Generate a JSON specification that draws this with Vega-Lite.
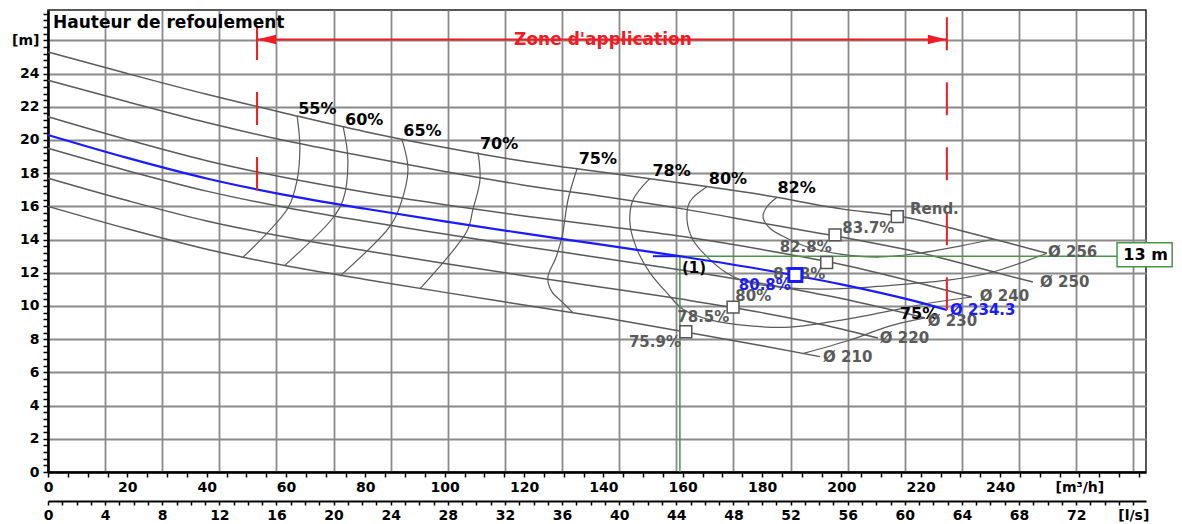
{
"$schema": "https://vega.github.io/schema/vega-lite/v6.json",
"width": 1098, "height": 462,
"autosize": {"type": "none"},
"padding": {"left": 48, "top": 10, "right": 36, "bottom": 52},
"background": "white",
"config": {"font": "DejaVu Sans", "view": {"stroke": "#222", "strokeWidth": 1.5}},
"datasets": {
"curves": [
{"d":"256","q":0,"h":25.3},{"d":"256","q":20,"h":24.0},{"d":"256","q":40,"h":22.75},{"d":"256","q":60,"h":21.6},{"d":"256","q":80,"h":20.5},{"d":"256","q":100,"h":19.55},{"d":"256","q":120,"h":18.72},{"d":"256","q":140,"h":18.05},{"d":"256","q":160,"h":17.4},{"d":"256","q":180,"h":16.7},{"d":"256","q":200,"h":15.85},{"d":"256","q":215.5,"h":15.38},{"d":"256","q":220,"h":15.15},{"d":"256","q":230,"h":14.55},{"d":"256","q":240,"h":13.93},{"d":"256","q":251.8,"h":13.18},
{"d":"250","q":0,"h":23.6},{"d":"250","q":20,"h":22.3},{"d":"250","q":40,"h":21.05},{"d":"250","q":60,"h":19.95},{"d":"250","q":80,"h":19.0},{"d":"250","q":100,"h":18.1},{"d":"250","q":120,"h":17.28},{"d":"250","q":140,"h":16.6},{"d":"250","q":160,"h":15.85},{"d":"250","q":180,"h":15.0},{"d":"250","q":200,"h":14.15},{"d":"250","q":220,"h":13.2},{"d":"250","q":240,"h":11.95},{"d":"250","q":248.3,"h":11.45},
{"d":"240","q":0,"h":21.4},{"d":"240","q":20,"h":20.02},{"d":"240","q":40,"h":18.75},{"d":"240","q":60,"h":17.72},{"d":"240","q":80,"h":16.85},{"d":"240","q":100,"h":16.1},{"d":"240","q":120,"h":15.42},{"d":"240","q":140,"h":14.82},{"d":"240","q":160,"h":14.18},{"d":"240","q":180,"h":13.4},{"d":"240","q":200,"h":12.5},{"d":"240","q":220,"h":11.35},{"d":"240","q":232.9,"h":10.54},
{"d":"234.3","q":0,"h":20.3},{"d":"234.3","q":20,"h":18.92},{"d":"234.3","q":40,"h":17.68},{"d":"234.3","q":60,"h":16.68},{"d":"234.3","q":80,"h":15.86},{"d":"234.3","q":100,"h":15.1},{"d":"234.3","q":120,"h":14.37},{"d":"234.3","q":140,"h":13.68},{"d":"234.3","q":160,"h":12.97},{"d":"234.3","q":180,"h":12.2},{"d":"234.3","q":200,"h":11.3},{"d":"234.3","q":220,"h":10.2},{"d":"234.3","q":226.6,"h":9.76},
{"d":"230","q":0,"h":19.5},{"d":"230","q":20,"h":18.15},{"d":"230","q":40,"h":16.92},{"d":"230","q":60,"h":15.93},{"d":"230","q":80,"h":15.1},{"d":"230","q":100,"h":14.33},{"d":"230","q":120,"h":13.58},{"d":"230","q":140,"h":12.88},{"d":"230","q":160,"h":12.15},{"d":"230","q":180,"h":11.35},{"d":"230","q":200,"h":10.45},{"d":"230","q":221.1,"h":9.28},
{"d":"220","q":0,"h":17.7},{"d":"220","q":20,"h":16.35},{"d":"220","q":40,"h":15.12},{"d":"220","q":60,"h":14.15},{"d":"220","q":80,"h":13.33},{"d":"220","q":100,"h":12.56},{"d":"220","q":120,"h":11.82},{"d":"220","q":140,"h":11.12},{"d":"220","q":160,"h":10.4},{"d":"220","q":180,"h":9.6},{"d":"220","q":200,"h":8.62},{"d":"220","q":209.2,"h":8.07},
{"d":"210","q":0,"h":16.0},{"d":"210","q":20,"h":14.65},{"d":"210","q":40,"h":13.42},{"d":"210","q":60,"h":12.42},{"d":"210","q":80,"h":11.6},{"d":"210","q":100,"h":10.82},{"d":"210","q":120,"h":10.06},{"d":"210","q":140,"h":9.3},{"d":"210","q":160,"h":8.47},{"d":"210","q":180,"h":7.6},{"d":"210","q":194.6,"h":6.95}
],
"iso": [
{"c":"55","i":0,"q":62.8,"h":21.45},{"c":"55","i":1,"q":63.5,"h":19.6},{"c":"55","i":2,"q":62.8,"h":17.6},{"c":"55","i":3,"q":60.5,"h":15.9},{"c":"55","i":4,"q":49.2,"h":12.95},
{"c":"60","i":0,"q":74.4,"h":20.8},{"c":"60","i":1,"q":75.6,"h":18.8},{"c":"60","i":2,"q":74.4,"h":16.4},{"c":"60","i":3,"q":71.8,"h":15.3},{"c":"60","i":4,"q":59.7,"h":12.45},
{"c":"65","i":0,"q":89.2,"h":20.05},{"c":"65","i":1,"q":90.75,"h":18.2},{"c":"65","i":2,"q":88.7,"h":16.0},{"c":"65","i":3,"q":86.2,"h":14.8},{"c":"65","i":4,"q":73.6,"h":11.8},
{"c":"70","i":0,"q":108.4,"h":19.25},{"c":"70","i":1,"q":108.9,"h":17.6},{"c":"70","i":2,"q":107.1,"h":15.8},{"c":"70","i":3,"q":105.6,"h":14.5},{"c":"70","i":4,"q":93.8,"h":11.05},
{"c":"75L","i":0,"q":133.35,"h":18.25},{"c":"75L","i":1,"q":131.1,"h":16.4},{"c":"75L","i":2,"q":129.6,"h":14.2},{"c":"75L","i":3,"q":128.1,"h":12.95},{"c":"75L","i":4,"q":126.0,"h":11.7},{"c":"75L","i":5,"q":127.05,"h":10.85},{"c":"75L","i":6,"q":129.6,"h":10.25},{"c":"75L","i":7,"q":132.3,"h":9.6},
{"c":"75R","i":0,"q":190.5,"h":7.15},{"c":"75R","i":1,"q":202.2,"h":7.95},{"c":"75R","i":2,"q":212.3,"h":8.8},{"c":"75R","i":3,"q":221.1,"h":9.28},
{"c":"78","i":0,"q":151.75,"h":17.69},{"c":"78","i":1,"q":147.5,"h":16.4},{"c":"78","i":2,"q":146.7,"h":15.0},{"c":"78","i":3,"q":148.5,"h":13.4},{"c":"78","i":4,"q":151.75,"h":12.0},{"c":"78","i":5,"q":156.0,"h":10.8},{"c":"78","i":6,"q":160.1,"h":9.8},{"c":"78","i":7,"q":166.9,"h":9.16},{"c":"78","i":8,"q":177.0,"h":8.8},{"c":"78","i":9,"q":187.0,"h":8.73},{"c":"78","i":10,"q":197.1,"h":9.04},{"c":"78","i":11,"q":209.7,"h":9.58},{"c":"78","i":12,"q":222.3,"h":10.18},{"c":"78","i":13,"q":232.9,"h":10.54},
{"c":"80","i":0,"q":166.1,"h":17.19},{"c":"80","i":1,"q":161.8,"h":16.28},{"c":"80","i":2,"q":161.1,"h":15.18},{"c":"80","i":3,"q":162.6,"h":13.98},{"c":"80","i":4,"q":166.1,"h":12.97},{"c":"80","i":5,"q":171.2,"h":11.97},{"c":"80","i":6,"q":177.0,"h":11.39},{"c":"80","i":7,"q":184.3,"h":11.14},{"c":"80","i":8,"q":194.6,"h":11.02},{"c":"80","i":9,"q":207.2,"h":11.14},{"c":"80","i":10,"q":219.8,"h":11.39},{"c":"80","i":11,"q":227.4,"h":11.57},{"c":"80","i":12,"q":238.2,"h":12.05},{"c":"80","i":13,"q":251.8,"h":13.18},
{"c":"82","i":0,"q":183.8,"h":16.55},{"c":"82","i":1,"q":181.25,"h":15.98},{"c":"82","i":2,"q":180.25,"h":15.38},{"c":"82","i":3,"q":182.0,"h":14.68},{"c":"82","i":4,"q":186.3,"h":14.08},{"c":"82","i":5,"q":191.3,"h":13.57},{"c":"82","i":6,"q":199.65,"h":13.13},{"c":"82","i":7,"q":209.7,"h":12.95},{"c":"82","i":8,"q":219.8,"h":13.19},{"c":"82","i":9,"q":229.9,"h":13.61},{"c":"82","i":10,"q":238.2,"h":14.02}
],
"hr": [
{"k":"g","q":159.3,"q2":276.8,"h":13.0},
{"k":"b","q":152.5,"q2":159.3,"h":13.0},
{"k":"r","q":52.7,"q2":226.6,"h":26.05}
],
"vr": [
{"k":"g","q":159.3,"h":0,"h2":13.0},
{"k":"r","q":52.7,"h":26.8,"h2":16.95},
{"k":"r","q":226.6,"h":27.4,"h2":9.76}
],
"arrows": [
{"dir":"l","q":55.08,"h":26.05},
{"dir":"r","q":224.2,"h":26.05}
],
"pts": [
{"k":"g","q":160.8,"h":8.45},
{"k":"g","q":172.7,"h":9.93},
{"k":"g","q":196.3,"h":12.62},
{"k":"g","q":198.4,"h":14.28},
{"k":"g","q":214.1,"h":15.38},
{"k":"b","q":188.4,"h":11.87}
],
"box": [{"q":269.5,"q2":283.4,"h":12.37,"h2":13.81}],
"txt": [
{"g":"iso","q":67.9,"h":21.87,"t":"55%"},
{"g":"iso","q":79.7,"h":21.23,"t":"60%"},
{"g":"iso","q":94.4,"h":20.54,"t":"65%"},
{"g":"iso","q":113.7,"h":19.75,"t":"70%"},
{"g":"iso","q":138.6,"h":18.86,"t":"75%"},
{"g":"iso","q":157.2,"h":18.14,"t":"78%"},
{"g":"iso","q":171.4,"h":17.65,"t":"80%"},
{"g":"iso","q":188.7,"h":17.08,"t":"82%"},
{"g":"iso","q":219.6,"h":9.5,"t":"75%"},
{"g":"bep","q":153.0,"h":7.85,"t":"75.9%"},
{"g":"bep","q":165.2,"h":9.36,"t":"78.5%"},
{"g":"bep","q":177.8,"h":10.6,"t":"80%"},
{"g":"bep","q":189.4,"h":11.93,"t":"81.8%"},
{"g":"bep","q":191.0,"h":13.57,"t":"82.8%"},
{"g":"bep","q":206.8,"h":14.68,"t":"83.7%"},
{"g":"bepb","q":180.7,"h":11.25,"t":"80.8%"},
{"g":"dia","q":252.1,"h":13.25,"t":"Ø 256"},
{"g":"dia","q":250.1,"h":11.46,"t":"Ø 250"},
{"g":"dia","q":234.9,"h":10.58,"t":"Ø 240"},
{"g":"dia","q":221.8,"h":9.12,"t":"Ø 230"},
{"g":"dia","q":209.7,"h":8.1,"t":"Ø 220"},
{"g":"dia","q":195.4,"h":6.9,"t":"Ø 210"},
{"g":"dia","q":217.3,"h":15.84,"t":"Rend."},
{"g":"diab","q":227.4,"h":9.74,"t":"Ø 234.3"},
{"g":"one","q":159.8,"h":12.27,"t":"(1)"},
{"g":"title","q":1.26,"h":27.05,"t":"Hauteur de refoulement"},
{"g":"zone","q":139.9,"h":26.05,"t":"Zone d'application"},
{"g":"box","q":276.7,"h":13.07,"t":"13 m"}
]
},
"layer": [
{
"encoding": {
"x": {"field": "q", "type": "quantitative", "scale": {"domain": [0, 276.8], "nice": false, "zero": false},
 "axis": {"title": null,
  "values": [0,5,10,14.4,15,20,25,28.8,30,35,40,43.2,45,50,55,57.6,60,65,70,72,75,80,85,86.4,90,95,100,100.8,105,110,115,115.2,120,125,129.6,130,135,140,144,145,150,155,158.4,160,165,170,172.8,175,180,185,187.2,190,195,200,201.6,205,210,215,216,220,225,230,230.4,235,240,244.8,245,250,255,259.2,260,265,270,273.6,275],
  "grid": true, "gridColor": "#8a8a8a", "gridWidth": 1.8,
  "gridOpacity": {"condition": {"test": "abs(datum.value/14.4 - round(datum.value/14.4)) < 0.001", "value": 1}, "value": 0},
  "domainColor": "#000", "domainWidth": 2.5,
  "tickColor": "#000", "tickWidth": 1.5, "tickSize": 5,
  "tickOpacity": {"condition": {"test": "abs(datum.value/5 - round(datum.value/5)) < 0.001", "value": 1}, "value": 0},
  "labelExpr": "abs(datum.value/20 - round(datum.value/20)) < 0.001 ? (round(datum.value) == 260 ? '[m³/h]' : format(datum.value, 'd')) : ''",
  "labelFont": "DejaVu Sans", "labelFontSize": 14, "labelFontWeight": "bold", "labelColor": "#000",
  "labelPadding": 3, "labelOverlap": false, "labelFlush": false, "labelBound": false}},
"y": {"field": "h", "type": "quantitative", "scale": {"domain": [0, 27.83], "nice": false, "zero": false},
 "axis": {"title": null,
  "values": [0,0.4,0.8,1.2,1.6,2,2.4,2.8,3.2,3.6,4,4.4,4.8,5.2,5.6,6,6.4,6.8,7.2,7.6,8,8.4,8.8,9.2,9.6,10,10.4,10.8,11.2,11.6,12,12.4,12.8,13.2,13.6,14,14.4,14.8,15.2,15.6,16,16.4,16.8,17.2,17.6,18,18.4,18.8,19.2,19.6,20,20.4,20.8,21.2,21.6,22,22.4,22.8,23.2,23.6,24,24.4,24.8,25.2,25.6,26,26.4,26.8,27.2,27.6],
  "grid": true, "gridColor": "#8a8a8a", "gridWidth": 1.8,
  "gridOpacity": {"condition": {"test": "abs(datum.value/2 - round(datum.value/2)) < 0.01", "value": 1}, "value": 0},
  "domainColor": "#000", "domainWidth": 2.5,
  "tickColor": "#000", "tickWidth": 1.5, "tickSize": 5,
  "labelExpr": "abs(datum.value/2 - round(datum.value/2)) < 0.01 ? (round(datum.value) == 26 ? '[m]' : format(datum.value, 'd')) : ''",
  "labelFont": "DejaVu Sans", "labelFontSize": 14, "labelFontWeight": "bold", "labelColor": "#000",
  "labelPadding": 4, "labelOverlap": false, "labelFlush": false, "labelBound": false}}
},
"layer": [
{"data": {"name": "curves"}, "transform": [{"filter": "datum.d != '234.3'"}], "mark": {"type": "line", "color": "#5a5a5a", "strokeWidth": 1.5, "interpolate": "monotone"}, "encoding": {"detail": {"field": "d"}}},
{"data": {"name": "iso"}, "mark": {"type": "line", "color": "#5a5a5a", "strokeWidth": 1.2, "interpolate": "catmull-rom"}, "encoding": {"detail": {"field": "c"}, "order": {"field": "i", "type": "quantitative"}}},
{"data": {"name": "vr"}, "transform": [{"filter": "datum.k == 'g'"}], "mark": {"type": "rule", "color": "#4a944a", "strokeWidth": 1.5}, "encoding": {"y2": {"field": "h2"}}},
{"data": {"name": "hr"}, "transform": [{"filter": "datum.k == 'g'"}], "mark": {"type": "rule", "color": "#4a944a", "strokeWidth": 1.5}, "encoding": {"x2": {"field": "q2"}}},
{"data": {"name": "curves"}, "transform": [{"filter": "datum.d == '234.3'"}], "mark": {"type": "line", "color": "#1a1aff", "strokeWidth": 2.2, "interpolate": "monotone"}},
{"data": {"name": "hr"}, "transform": [{"filter": "datum.k == 'b'"}], "mark": {"type": "rule", "color": "#1a1aff", "strokeWidth": 2}, "encoding": {"x2": {"field": "q2"}}},
{"data": {"name": "vr"}, "transform": [{"filter": "datum.k == 'r'"}], "mark": {"type": "rule", "color": "#ee1c24", "strokeWidth": 2, "strokeDash": [33, 32]}, "encoding": {"y2": {"field": "h2"}}},
{"data": {"name": "hr"}, "transform": [{"filter": "datum.k == 'r'"}], "mark": {"type": "rule", "color": "#ee1c24", "strokeWidth": 2}, "encoding": {"x2": {"field": "q2"}}},
{"data": {"name": "arrows"}, "transform": [{"filter": "datum.dir == 'l'"}], "mark": {"type": "point", "shape": "M-1,0L1,-0.5L1,0.5Z", "filled": true, "color": "#ee1c24", "size": 361, "opacity": 1}},
{"data": {"name": "arrows"}, "transform": [{"filter": "datum.dir == 'r'"}], "mark": {"type": "point", "shape": "M1,0L-1,-0.5L-1,0.5Z", "filled": true, "color": "#ee1c24", "size": 361, "opacity": 1}},
{"data": {"name": "pts"}, "transform": [{"filter": "datum.k == 'g'"}], "mark": {"type": "square", "size": 140, "fill": "#ffffff", "stroke": "#555555", "strokeWidth": 1.5, "fillOpacity": 1, "strokeOpacity": 1}},
{"data": {"name": "txt"}, "transform": [{"filter": "datum.g == 'bep'"}], "mark": {"type": "text", "align": "center", "baseline": "middle", "font": "DejaVu Sans", "fontWeight": "bold", "fontSize": 15, "color": "#5a5a5a"}, "encoding": {"text": {"field": "t"}}},
{"data": {"name": "txt"}, "transform": [{"filter": "datum.g == 'iso'"}], "mark": {"type": "text", "align": "center", "baseline": "middle", "font": "DejaVu Sans", "fontWeight": "bold", "fontSize": 16, "color": "#000"}, "encoding": {"text": {"field": "t"}}},
{"data": {"name": "txt"}, "transform": [{"filter": "datum.g == 'dia'"}], "mark": {"type": "text", "align": "left", "baseline": "middle", "font": "DejaVu Sans", "fontWeight": "bold", "fontSize": 15, "color": "#5a5a5a"}, "encoding": {"text": {"field": "t"}}},
{"data": {"name": "txt"}, "transform": [{"filter": "datum.g == 'one'"}], "mark": {"type": "text", "align": "left", "baseline": "middle", "font": "DejaVu Sans", "fontWeight": "bold", "fontSize": 15, "color": "#000"}, "encoding": {"text": {"field": "t"}}},
{"data": {"name": "pts"}, "transform": [{"filter": "datum.k == 'b'"}], "mark": {"type": "square", "size": 170, "fill": "#ffffff", "stroke": "#1a1aff", "strokeWidth": 3, "fillOpacity": 1, "strokeOpacity": 1}},
{"data": {"name": "txt"}, "transform": [{"filter": "datum.g == 'bepb'"}], "mark": {"type": "text", "align": "center", "baseline": "middle", "font": "DejaVu Sans", "fontWeight": "bold", "fontSize": 15, "color": "#1a1aff"}, "encoding": {"text": {"field": "t"}}},
{"data": {"name": "txt"}, "transform": [{"filter": "datum.g == 'diab'"}], "mark": {"type": "text", "align": "left", "baseline": "middle", "font": "DejaVu Sans", "fontWeight": "bold", "fontSize": 15, "color": "#1a1aff"}, "encoding": {"text": {"field": "t"}}},
{"data": {"name": "box"}, "mark": {"type": "rect", "fill": "#ffffff", "stroke": "#4a944a", "strokeWidth": 1.5}, "encoding": {"x2": {"field": "q2"}, "y2": {"field": "h2"}}},
{"data": {"name": "txt"}, "transform": [{"filter": "datum.g == 'box'"}], "mark": {"type": "text", "align": "center", "baseline": "middle", "font": "DejaVu Sans", "fontWeight": "bold", "fontSize": 16, "color": "#000"}, "encoding": {"text": {"field": "t"}}},
{"data": {"name": "txt"}, "transform": [{"filter": "datum.g == 'title'"}], "mark": {"type": "text", "align": "left", "baseline": "middle", "font": "DejaVu Sans", "fontWeight": "bold", "fontSize": 17, "color": "#000"}, "encoding": {"text": {"field": "t"}}},
{"data": {"name": "txt"}, "transform": [{"filter": "datum.g == 'zone'"}], "mark": {"type": "text", "align": "center", "baseline": "middle", "font": "DejaVu Sans", "fontWeight": "bold", "fontSize": 17, "color": "#ee1c24"}, "encoding": {"text": {"field": "t"}}}
]
},
{
"data": {"values": [{"ls": 0}, {"ls": 76.89}]},
"mark": {"type": "point", "opacity": 0},
"encoding": {
"x": {"field": "ls", "type": "quantitative", "scale": {"domain": [0, 76.89], "nice": false, "zero": false},
 "axis": {"orient": "bottom", "offset": 29, "title": null, "grid": false,
  "values": [0,1,2,3,4,5,6,7,8,9,10,11,12,13,14,15,16,17,18,19,20,21,22,23,24,25,26,27,28,29,30,31,32,33,34,35,36,37,38,39,40,41,42,43,44,45,46,47,48,49,50,51,52,53,54,55,56,57,58,59,60,61,62,63,64,65,66,67,68,69,70,71,72,73,74,75,76],
  "domainColor": "#000", "domainWidth": 2,
  "tickColor": "#000", "tickWidth": 1.5, "tickSize": 4,
  "labelExpr": "datum.value % 4 === 0 ? (datum.value === 76 ? '[l/s]' : format(datum.value, 'd')) : ''",
  "labelFont": "DejaVu Sans", "labelFontSize": 14, "labelFontWeight": "bold", "labelColor": "#000",
  "labelPadding": 3, "labelOverlap": false, "labelFlush": false, "labelBound": false}}
}
}
],
"resolve": {"scale": {"x": "independent"}}
}
